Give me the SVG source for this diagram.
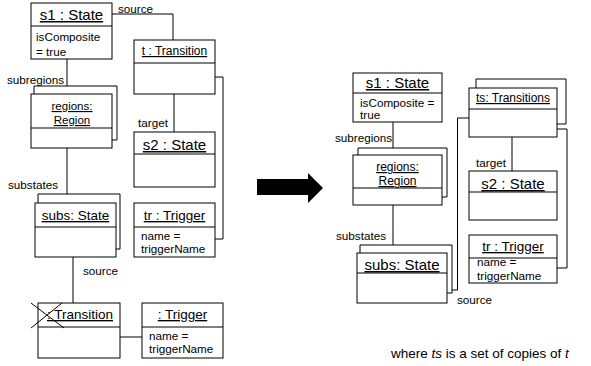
<svg xmlns="http://www.w3.org/2000/svg" width="591" height="366" viewBox="0 0 591 366">
  <style>
    .box { fill: #fff; stroke: #000; stroke-width: 1; }
    .ln { fill: none; stroke: #000; stroke-width: 1; }
    text { font-family: "Liberation Sans", Arial, sans-serif; fill: #000; }
    .t15 { font-size: 15px; text-anchor: middle; text-decoration: underline; }
    .t13 { font-size: 13.5px; text-anchor: middle; text-decoration: underline; }
    .t12 { font-size: 12px; text-anchor: middle; text-decoration: underline; }
    .t11 { font-size: 11.5px; text-anchor: middle; text-decoration: underline; }
    .a { font-size: 11.7px; }
    .lbl { font-size: 11.7px; }
  </style>

  <rect width="591" height="366" fill="#fff"/>

  <!-- connectors -->
  <g id="connectors">
    <!-- before -->
    <path class="ln" d="M112,14 H173 V40"/>
    <path class="ln" d="M174,94 V132"/>
    <path class="ln" d="M215,77 H223 V239 H215"/>
    <path class="ln" d="M67,59 V86"/>
    <path class="ln" d="M67,148 V194"/>
    <path class="ln" d="M73,257 V303"/>
    <path class="ln" d="M120,337 H142"/>
    <!-- after -->
    <path class="ln" d="M393,122 V148"/>
    <path class="ln" d="M393,205 V245"/>
    <path class="ln" d="M512,137 V171"/>
    <path class="ln" d="M557,129 H567 V268 H557"/>
    <path class="ln" d="M469,118 H457.5 V290 H452"/>
  </g>

  <!-- connector labels -->
  <g id="labels">
    <text class="lbl" x="118" y="13">source</text>
    <text class="lbl" x="7" y="84">subregions</text>
    <text class="lbl" x="138" y="127">target</text>
    <text class="lbl" x="8" y="189">substates</text>
    <text class="lbl" x="83" y="275">source</text>
    <text class="lbl" x="335" y="142">subregions</text>
    <text class="lbl" x="336" y="240">substates</text>
    <text class="lbl" x="476" y="167">target</text>
    <text class="lbl" x="457" y="304">source</text>
  </g>

  <!-- before: object diagram -->
  <g id="s1-left">
    <rect class="box" x="31" y="3" width="81" height="56"/>
    <line class="ln" x1="31" y1="26" x2="112" y2="26"/>
    <text class="t15" x="71.5" y="20">s1 : State</text>
    <text class="a" x="36" y="41">isComposite</text>
    <text class="a" x="36" y="56">= true</text>
  </g>

  <g id="t-left">
    <rect class="box" x="134" y="40" width="81" height="54"/>
    <line class="ln" x1="134" y1="63" x2="215" y2="63"/>
    <text class="t12" x="174.5" y="55">t : Transition</text>
  </g>

  <g id="regions-left">
    <path class="ln" d="M34,94 V86 H117 V140 H112"/>
    <rect class="box" x="31" y="94" width="81" height="54"/>
    <line class="ln" x1="31" y1="128" x2="112" y2="128"/>
    <text class="t11" x="72" y="110">regions:</text>
    <text class="t11" x="72" y="124">Region</text>
  </g>

  <g id="s2-left">
    <rect class="box" x="134" y="132" width="81" height="55"/>
    <line class="ln" x1="134" y1="154" x2="215" y2="154"/>
    <text class="t15" x="174.5" y="150">s2 : State</text>
  </g>

  <g id="subs-left">
    <path class="ln" d="M38,203 V194 H120 V249 H116"/>
    <rect class="box" x="35" y="203" width="81" height="54"/>
    <line class="ln" x1="35" y1="227" x2="116" y2="227"/>
    <text class="t13" x="75.5" y="220">subs: State</text>
  </g>

  <g id="tr-left">
    <rect class="box" x="134" y="203" width="81" height="54"/>
    <line class="ln" x1="134" y1="227" x2="215" y2="227"/>
    <text class="t13" x="174.5" y="220">tr : Trigger</text>
    <text class="a" x="141" y="240">name =</text>
    <text class="a" x="141" y="253">triggerName</text>
  </g>

  <g id="transition-deleted">
    <rect class="box" x="38" y="303" width="82" height="55"/>
    <line class="ln" x1="38" y1="327" x2="120" y2="327"/>
    <text class="t13" x="80" y="319">: Transition</text>
    <line class="ln" x1="31" y1="303" x2="64" y2="328" stroke-width="1.3"/>
    <line class="ln" x1="31" y1="328" x2="62" y2="303" stroke-width="1.3"/>
  </g>

  <g id="trigger-left">
    <rect class="box" x="142" y="303" width="81" height="55"/>
    <line class="ln" x1="142" y1="327" x2="223" y2="327"/>
    <text class="t13" x="182.5" y="319">: Trigger</text>
    <text class="a" x="149" y="340">name =</text>
    <text class="a" x="149" y="353">triggerName</text>
  </g>

  <!-- transformation arrow -->
  <g id="arrow">
    <polygon points="257,179 308,179 308,173 323,188 308,203 308,195 257,195" fill="#000"/>
  </g>

  <!-- after: object diagram -->
  <g id="s1-right">
    <rect class="box" x="353" y="73" width="89" height="49"/>
    <line class="ln" x1="353" y1="93" x2="442" y2="93"/>
    <text class="t15" x="397.5" y="88">s1 : State</text>
    <text class="a" x="360" y="107">isComposite =</text>
    <text class="a" x="360" y="119">true</text>
  </g>

  <g id="regions-right">
    <path class="ln" d="M358,155 V148 H447 V197 H442"/>
    <rect class="box" x="353" y="155" width="89" height="50"/>
    <line class="ln" x1="353" y1="188" x2="442" y2="188"/>
    <text class="t12" x="397.5" y="171">regions:</text>
    <text class="t12" x="397.5" y="185">Region</text>
  </g>

  <g id="subs-right">
    <path class="ln" d="M360,253 V245 H452 V293 H447"/>
    <rect class="box" x="357" y="253" width="90" height="50"/>
    <line class="ln" x1="357" y1="273" x2="447" y2="273"/>
    <text class="t15" x="402" y="270">subs: State</text>
  </g>

  <g id="ts-right">
    <path class="ln" d="M476,88 V79 H566 V124 H557"/>
    <rect class="box" x="469" y="88" width="88" height="49"/>
    <line class="ln" x1="469" y1="109" x2="557" y2="109"/>
    <text class="t12" x="513" y="102">ts: Transitions</text>
  </g>

  <g id="s2-right">
    <rect class="box" x="469" y="171" width="88" height="49"/>
    <line class="ln" x1="469" y1="192" x2="557" y2="192"/>
    <text class="t15" x="513" y="189">s2 : State</text>
  </g>

  <g id="tr-right">
    <rect class="box" x="469" y="235" width="88" height="48"/>
    <line class="ln" x1="469" y1="258" x2="557" y2="258"/>
    <text class="t13" x="513" y="251">tr : Trigger</text>
    <text class="a" x="477" y="266">name =</text>
    <text class="a" x="477" y="280">triggerName</text>
  </g>

  <g id="caption">
    <text x="391" y="358" font-size="13.5">where <tspan font-style="italic">ts</tspan> is a set of copies of <tspan font-style="italic">t</tspan></text>
  </g>
</svg>
